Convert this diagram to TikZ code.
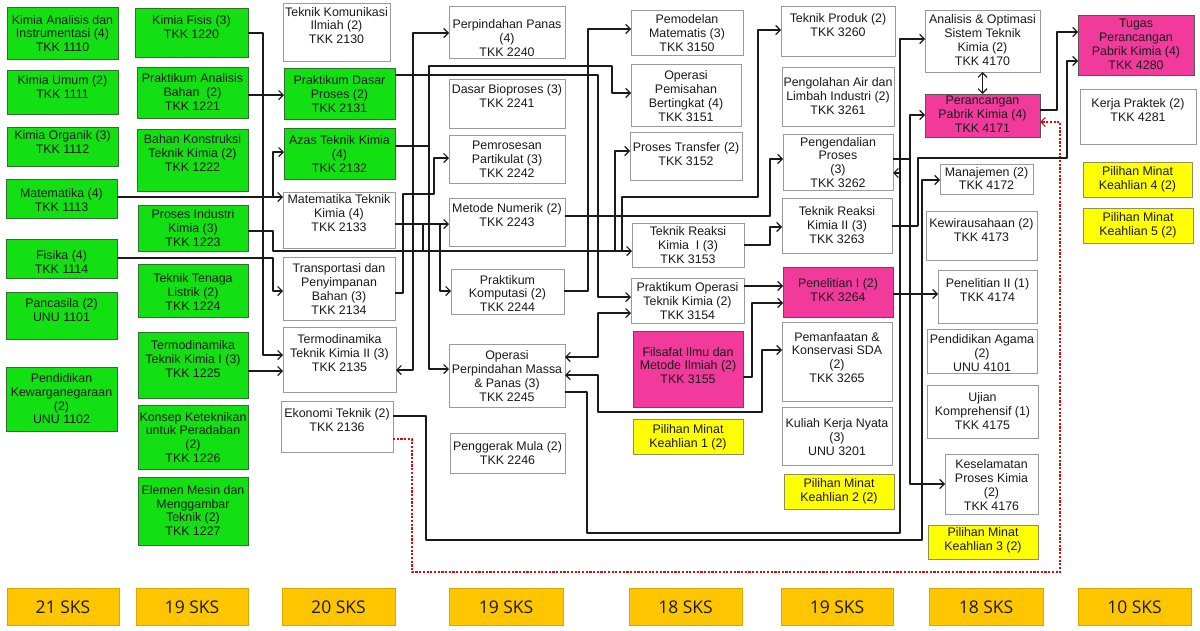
\documentclass[tikz,border=0pt]{standalone}
\usepackage{fontspec}
\setmainfont{Liberation Sans}
\newfontfamily\sksfont{Open Sans}
\usetikzlibrary{arrows.meta}
\definecolor{grn}{HTML}{12E012}
\definecolor{grnb}{HTML}{2F6F2F}
\definecolor{grayb}{HTML}{9A9A9A}
\definecolor{mag}{HTML}{F23A9C}
\definecolor{magb}{HTML}{555555}
\definecolor{yel}{HTML}{FFFF00}
\definecolor{yelb}{HTML}{8F8F5A}
\definecolor{sks}{HTML}{FFC600}
\definecolor{sksb}{HTML}{D8A800}
\definecolor{txtc}{HTML}{1A1A1A}
\definecolor{linec}{HTML}{1A1A1A}
\definecolor{redl}{HTML}{CC1111}
\tikzset{
  base/.style={line width=0.8pt, inner sep=0pt, outer sep=0pt},
  gbox/.style={base, draw=grnb, fill=grn},
  wbox/.style={base, draw=grayb, fill=white},
  mbox/.style={base, draw=magb, fill=mag},
  ybox/.style={base, draw=yelb, fill=yel},
  sbox/.style={base, draw=sksb, fill=sks},
  txt/.style={inner sep=0pt, align=center, text=txtc, font=\fontsize{12.4}{13.9}\selectfont},
  skstxt/.style={inner sep=0pt, text=txtc, font=\sksfont\fontsize{17.5}{20}\selectfont},
  arr/.style={draw=linec, line width=1.2pt, line join=round, -{Straight Barb[length=4.5pt,width=9pt]}},
  arrb/.style={draw=linec, line width=1.2pt, line join=round, {Straight Barb[length=4.5pt,width=9pt]}-{Straight Barb[length=4.5pt,width=9pt]}},
  ln/.style={draw=linec, line width=1.2pt, line join=round},
  reddash/.style={draw=redl, line width=1.2pt, dash pattern=on 2.2pt off 1.5pt, -{Straight Barb[length=4.5pt,width=9pt]}}
}
\newcommand{\course}[8]{%
  \node[#2, minimum width={#5pt-#3pt}, minimum height={#6pt-#4pt}] (#1) at ({(#3+#5)/2},{(#4+#6)/2}) {};
  \node[txt] (#1t) at ({(#3+#5)/2},#7) {#8};}
\newcommand{\sksbox}[4]{%
  \node[sbox, minimum width={#3pt-#2pt}, minimum height=37pt] (#1) at ({(#2+#3)/2},606.5) {};
  \node[skstxt] (#1t) at ({(#2+#3)/2},607) {#4};}
\begin{document}
\begin{tikzpicture}[x=1pt,y=-1pt]
\fill[white] (0,0) rectangle (1200,630);
\useasboundingbox (0,0) rectangle (1200,630);
% Column 1
\course{c1110}{gbox}{7}{7}{118}{59}{33.5}{Kimia Analisis dan\\Instrumentasi (4)\\TKK 1110}
\course{c1111}{gbox}{7}{70}{118}{114}{86.7}{Kimia Umum (2)\\TKK 1111}
\course{c1112}{gbox}{7}{127}{118}{166}{141.7}{Kimia Organik (3)\\TKK 1112}
\course{c1113}{gbox}{6}{179}{117}{218}{200}{Matematika (4)\\TKK 1113}
\course{c1114}{gbox}{6}{239}{117}{278}{261.7}{Fisika (4)\\TKK 1114}
\course{c1101}{gbox}{6}{292}{117}{339}{310}{Pancasila (2)\\UNU 1101}
\course{c1102}{gbox}{6}{367}{117}{431}{398.7}{Pendidikan\\Kewarganegaraan\\(2)\\UNU 1102}
% Column 2
\course{c1220}{gbox}{135}{8}{248}{57}{26.7}{Kimia Fisis (3)\\TKK 1220}
\course{c1221}{gbox}{137}{67}{248}{118}{92}{Praktikum Analisis\\Bahan\ \ (2)\\TKK 1221}
\course{c1222}{gbox}{137}{129}{248}{191}{153}{Bahan Konstruksi\\Teknik Kimia (2)\\TKK 1222}
\course{c1223}{gbox}{138}{205}{248}{251}{228}{Proses Industri\\Kimia (3)\\TKK 1223}
\course{c1224}{gbox}{138}{264}{248}{317}{291.7}{Teknik Tenaga\\Listrik (2)\\TKK 1224}
\course{c1225}{gbox}{138}{332}{248}{398}{358.7}{Termodinamika\\Teknik Kimia I (3)\\TKK 1225}
\course{c1226}{gbox}{138}{405}{248}{469}{437.5}{Konsep Keteknikan\\untuk Peradaban\\(2)\\TKK 1226}
\course{c1227}{gbox}{138}{477}{248}{545}{510.5}{Elemen Mesin dan\\Menggambar\\Teknik (2)\\TKK 1227}
% Column 3
\course{c2130}{wbox}{283}{3}{390}{61}{25.5}{Teknik Komunikasi\\Ilmiah (2)\\TKK 2130}
\course{c2131}{gbox}{284}{68}{395}{119}{94}{Praktikum Dasar\\Proses (2)\\TKK 2131}
\course{c2132}{gbox}{284}{128}{395}{179}{154}{Azas Teknik Kimia\\(4)\\TKK 2132}
\course{c2133}{wbox}{283}{192}{395}{248}{213}{Matematika Teknik\\Kimia (4)\\TKK 2133}
\course{c2134}{wbox}{283}{257}{395}{320}{289}{Transportasi dan\\Penyimpanan\\Bahan (3)\\TKK 2134}
\course{c2135}{wbox}{283}{327}{396}{392}{353.3}{Termodinamika\\Teknik Kimia II (3)\\TKK 2135}
\course{c2136}{wbox}{281}{401}{393}{452}{420}{Ekonomi Teknik (2)\\TKK 2136}
% Column 4
\course{c2240}{wbox}{449}{6}{565}{58}{38.3}{Perpindahan Panas\\(4)\\TKK 2240}
\course{c2241}{wbox}{449}{79}{565}{128}{96}{Dasar Bioproses (3)\\TKK 2241}
\course{c2242}{wbox}{449}{135}{565}{183}{159}{Pemrosesan\\Partikulat (3)\\TKK 2242}
\course{c2243}{wbox}{449}{198}{565}{246}{215}{Metode Numerik (2)\\TKK 2243}
\course{c2244}{wbox}{451}{269}{564}{314}{293.5}{Praktikum\\Komputasi (2)\\TKK 2244}
\course{c2245}{wbox}{449}{344}{565}{407}{376}{Operasi\\Perpindahan Massa\\\& Panas (3)\\TKK 2245}
\course{c2246}{wbox}{450}{433}{565}{473}{453}{Penggerak Mula (2)\\TKK 2246}
% Column 5
\course{c3150}{wbox}{631}{10}{743}{55}{32.7}{Pemodelan\\Matematis (3)\\TKK 3150}
\course{c3151}{wbox}{631}{64}{741}{126}{96}{Operasi\\Pemisahan\\Bertingkat (4)\\TKK 3151}
\course{c3152}{wbox}{630}{132}{742}{180}{154}{Proses Transfer (2)\\TKK 3152}
\course{c3153}{wbox}{632}{223}{744}{267}{245}{Teknik Reaksi\\Kimia\ \ I (3)\\TKK 3153}
\course{c3154}{wbox}{631}{278}{744}{323}{301}{Praktikum Operasi\\Teknik Kimia (2)\\TKK 3154}
\course{c3155}{mbox}{633}{331}{743}{407}{365.5}{Filsafat Ilmu dan\\Metode Ilmiah (2)\\TKK 3155}
\course{p1}{ybox}{633}{419}{743}{454}{437}{Pilihan Minat\\Keahlian 1 (2)}
% Column 6
\course{c3260}{wbox}{781}{6}{895}{56}{25}{Teknik Produk (2)\\TKK 3260}
\course{c3261}{wbox}{782}{67}{894}{126}{96}{Pengolahan Air dan\\Limbah Industri (2)\\TKK 3261}
\course{c3262}{wbox}{783}{134}{893}{190}{162.5}{Pengendalian\\Proses\\(3)\\TKK 3262}
\course{c3263}{wbox}{782}{198}{892}{253}{225}{Teknik Reaksi\\Kimia II (3)\\TKK 3263}
\course{c3264}{mbox}{783}{267}{893}{317}{290}{Penelitian I (2)\\TKK 3264}
\course{c3265}{wbox}{782}{322}{892}{401}{357.5}{Pemanfaatan \&\\Konservasi SDA\\(2)\\TKK 3265}
\course{c3201}{wbox}{782}{407}{892}{465}{437}{Kuliah Kerja Nyata\\(3)\\UNU 3201}
\course{p2}{ybox}{784}{474}{894}{509}{491.5}{Pilihan Minat\\Keahlian 2 (2)}
% Column 7
\course{c4170}{wbox}{925}{10}{1040}{72}{40}{Analisis \& Optimasi\\Sistem Teknik\\Kimia (2)\\TKK 4170}
\course{c4171}{mbox}{925}{94}{1040}{137}{114}{Perancangan\\Pabrik Kimia (4)\\TKK 4171}
\course{c4172}{wbox}{940}{164}{1033}{194}{178.5}{Manajemen (2)\\TKK 4172}
\course{c4173}{wbox}{926}{211}{1037}{260}{230}{Kewirausahaan (2)\\TKK 4173}
\course{c4174}{wbox}{938}{270}{1037}{323}{290}{Penelitian II (1)\\TKK 4174}
\course{c4101}{wbox}{927}{329}{1037}{373}{353}{Pendidikan Agama\\(2)\\UNU 4101}
\course{c4175}{wbox}{927}{385}{1038}{438}{411}{Ujian\\Komprehensif (1)\\TKK 4175}
\course{c4176}{wbox}{945}{454}{1038}{514}{485}{Keselamatan\\Proses Kimia\\(2)\\TKK 4176}
\course{p3}{ybox}{928}{525}{1038}{559}{540.5}{Pilihan Minat\\Keahlian 3 (2)}
% Column 8
\course{c4280}{mbox}{1078}{15}{1194}{75}{44.5}{Tugas\\Perancangan\\Pabrik Kimia (4)\\TKK 4280}
\course{c4281}{wbox}{1080}{89}{1196}{144}{110}{Kerja Praktek (2)\\TKK 4281}
\course{p4}{ybox}{1083}{162}{1192}{197}{179.5}{Pilihan Minat\\Keahlian 4 (2)}
\course{p5}{ybox}{1083}{208}{1193}{243}{225.5}{Pilihan Minat\\Keahlian 5 (2)}
% SKS
\sksbox{s1}{7}{119}{21 SKS}
\sksbox{s2}{136}{248}{19 SKS}
\sksbox{s3}{282}{395}{20 SKS}
\sksbox{s4}{449}{563}{19 SKS}
\sksbox{s5}{629}{742}{18 SKS}
\sksbox{s6}{781}{893}{19 SKS}
\sksbox{s7}{929}{1043}{18 SKS}
\sksbox{s8}{1078}{1191}{10 SKS}
% junction coordinates
\coordinate (jA) at (273,197);
\coordinate (jB) at (429,146);
\coordinate (jC) at (413,224);
\coordinate (jD) at (440,224);
\coordinate (jE) at (423,224);
\coordinate (jF) at (615,251);
\coordinate (jG) at (622,251);
\coordinate (jH) at (900,173);
\coordinate (jI) at (910,226);
\coordinate (jJ) at (918,226);
% connectors, semester 1-2 to 3
\draw[arr] (c1220.east |- 0,33) -- (263,33) -- (263,355) -- (c2135.west |- 0,355);
\draw[arr] (c1221.east |- 0,95) -- (c2131.west |- 0,95);
\draw[arr] (c1113.east |- 0,197) -- (c2133.west |- 0,197);
\draw[arr] (jA) -- (273,152) -- (c2132.west |- 0,152);
\draw[arr] (c1223.east |- 0,231) -- (273,231) -- (273,251) -- (c3153.west |- 0,251);
\draw[arr] (c1114.east |- 0,258) -- (273,258) -- (273,291) -- (c2134.west |- 0,291);
\draw[arr] (c1225.east |- 0,371) -- (c2135.west |- 0,371);
% semester 3 onward
\draw[arr] (c2131.east |- 0,75) -- (598,75) -- (598,297) -- (c3154.west |- 0,297);
\draw[ln] (c2132.east |- 0,146) -- (jB);
\draw[arr] (jB) -- (429,66) -- (612,66) -- (612,93) -- (c3151.west |- 0,93);
\draw[arr] (jB) -- (429,369) -- (c2245.west |- 0,369);
\draw[arr] (c2133.east |- 0,224) -- (c2243.west |- 0,224);
\draw[arr] (jC) -- (413,33) -- (c2240.west |- 0,33);
\draw[arr] (jC) -- (413,370) -- (c2135.east |- 0,370);
\draw[arr] (jD) -- (440,291) -- (c2244.west |- 0,291);
\draw[ln] (jE) -- (423,251);
\draw[arr] (c2134.east |- 0,293) -- (403,293) -- (403,194) -- (434,194) -- (434,158) -- (c2242.west |- 0,158);
\draw[arr] (c2243.east |- 0,216) -- (770,216) -- (770,159) -- (c3262.west |- 0,159);
\draw[arr] (c2244.east |- 0,291) -- (588,291) -- (588,29) -- (c3150.west |- 0,29);
\draw[arr] (jF) -- (615,151) -- (c3152.west |- 0,151);
\draw[arr] (jG) -- (622,197) -- (758,197) -- (758,30) -- (c3260.west |- 0,30);
\draw[arrb] (c2245.east |- 0,357) -- (598,357) -- (598,313) -- (c3154.west |- 0,313);
\draw[arrb] (c2245.east |- 0,375) -- (598,375) -- (598,412) -- (762,412) -- (762,350) -- (c3265.west |- 0,350);
\draw[arr] (c2245.east |- 0,392) -- (587,392) -- (587,533) -- (900,533) -- (900,39) -- (c4170.west |- 0,39);
\draw[arr] (jH) -- (c3262.east |- 0,173);
\draw[arr] (c2136.east |- 0,416) -- (426,416) -- (426,540) -- (922,540) -- (922,180) -- (c4172.west |- 0,180);
\draw[reddash] (c2136.east |- 0,439) -- (412,439) -- (412,572) -- (1060,572) -- (1060,122) -- (c4171.east |- 0,122);
\draw[arr] (c3153.east |- 0,245) -- (770,245) -- (770,227) -- (c3263.west |- 0,227);
\draw[arr] (c3154.east |- 0,286) -- (c3264.west |- 0,286);
\draw[arr] (c3155.east |- 0,377) -- (752,377) -- (752,303) -- (c3264.west |- 0,303);
\draw[arr] (c3264.east |- 0,294) -- (c4174.west |- 0,294);
\draw[ln] (c3262.east |- 0,159) -- (910,159);
\draw[ln] (c3263.east |- 0,226) -- (jJ);
\draw[arr] (jI) -- (910,115) -- (c4171.west |- 0,115);
\draw[arr] (jI) -- (910,484) -- (c4176.west |- 0,484);
\draw[arr] (jJ) -- (918,158) -- (1067,158) -- (1067,61) -- (c4280.west |- 0,61);
\draw[arr] (c4171.east |- 0,110) -- (1057,110) -- (1057,32) -- (c4280.west |- 0,32);
\draw[arrb] (c4170.south) -- (c4171.north);
\end{tikzpicture}
\end{document}
